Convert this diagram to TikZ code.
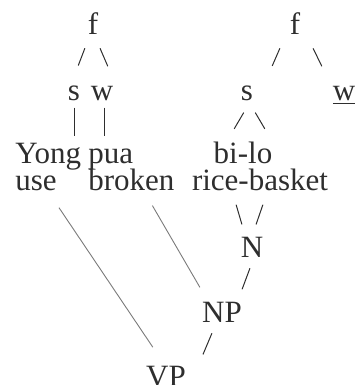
\documentclass[tikz,border=0pt]{standalone}
\usepackage{fontspec}
\setmainfont{Liberation Serif}
\definecolor{inkgray}{HTML}{2E2E2E}
\definecolor{linegray}{HTML}{7A7A7A}
\tikzset{
  wd/.style={font=\fontsize{15.5}{17}\selectfont, text=inkgray, inner sep=0pt},
  br/.style={draw=inkgray, line width=0.5pt},
  ln/.style={draw=linegray, line width=0.45pt},
}

\begin{document}
\begin{tikzpicture}[x=0.5pt,y=-0.5pt]
  \useasboundingbox (0,0) rectangle (354,385);
  % left foot
  \node[wd, anchor=base] (f1) at (93,35) {f};
  \node[wd, anchor=base] (s1) at (74,100) {s};
  \node[wd, anchor=base] (w1) at (102,100) {w};
  \node[wd, anchor=base west] (yong) at (15,163) {Yong};
  \node[wd, anchor=base west] (pua) at (88,163) {pua};
  \node[wd, anchor=base west] (use) at (15,190) {use};
  \node[wd, anchor=base west] (broken) at (88,190) {broken};
  % right foot
  \node[wd, anchor=base] (f2) at (295,35) {f};
  \node[wd, anchor=base] (s2) at (247,100) {s};
  \node[wd, anchor=base] (w2) at (344,100) {\underline{w}};
  \node[wd, anchor=base] (bilo) at (243,163) {bi-lo};
  \node[wd, anchor=base] (rice) at (260,190) {rice-basket};
  % phrase nodes
  \node[wd, anchor=base] (n) at (252,257) {N};
  \node[wd, anchor=base] (np) at (222,322) {NP};
  \node[wd, anchor=base] (vp) at (166,386) {VP};

  % foot branches
  \draw[br, shorten <=6.9pt, shorten >=10.4pt] ([xshift=-1.6pt]f1.south) -- ([xshift=-1.6pt]s1.north);
  \draw[br, shorten <=7pt, shorten >=10.4pt] ([xshift=0.75pt]f1.south) -- ([xshift=7pt]w1.north);
  \draw[br, shorten <=3.5pt, shorten >=3pt] (s1.south) -- (s1.south |- yong.north);
  \draw[br, shorten <=3.5pt, shorten >=6pt] ([xshift=1pt]w1.south) -- ([xshift=1pt]w1.south |- pua.north);
  \draw[br, shorten <=7pt, shorten >=10.4pt] ([xshift=-4.75pt]f2.south) -- ([xshift=8.45pt]s2.north);
  \draw[br, shorten <=7.2pt, shorten >=10.6pt] ([xshift=5.9pt]f2.south) -- ([xshift=-6.45pt]w2.north);
  \draw[br, shorten <=6.9pt, shorten >=7.1pt] ([xshift=1.85pt]s2.south) -- ([xshift=-8pt]bilo.north);
  \draw[br, shorten <=6.9pt, shorten >=7.1pt] ([xshift=0.65pt]s2.south) -- ([xshift=14.5pt]bilo.north);

  % syntax
  \draw[br, shorten <=7.3pt, shorten >=6.2pt] ([xshift=-14pt]rice.south) -- ([xshift=-3.3pt]n.north);
  \draw[br, shorten <=7.4pt, shorten >=6.3pt] ([xshift=3.85pt]rice.south) -- (n.north);
  \draw[br, shorten <=5.8pt, shorten >=6.4pt] ([xshift=1pt]n.south) -- ([xshift=7.8pt]np.north);
  \draw[br, shorten <=5.9pt, shorten >=5.9pt] ([xshift=-2.75pt]np.south) -- ([xshift=16.2pt]vp.north);
  \draw[ln, shorten <=10.2pt, shorten >=10.9pt] ([xshift=5.75pt]use.south) -- ([xshift=-0.5pt]vp.north);
  \draw[ln, shorten <=8.6pt, shorten >=8.1pt] ([xshift=6.15pt]broken.south) -- ([xshift=-7pt]np.north);
\end{tikzpicture}
\end{document}
